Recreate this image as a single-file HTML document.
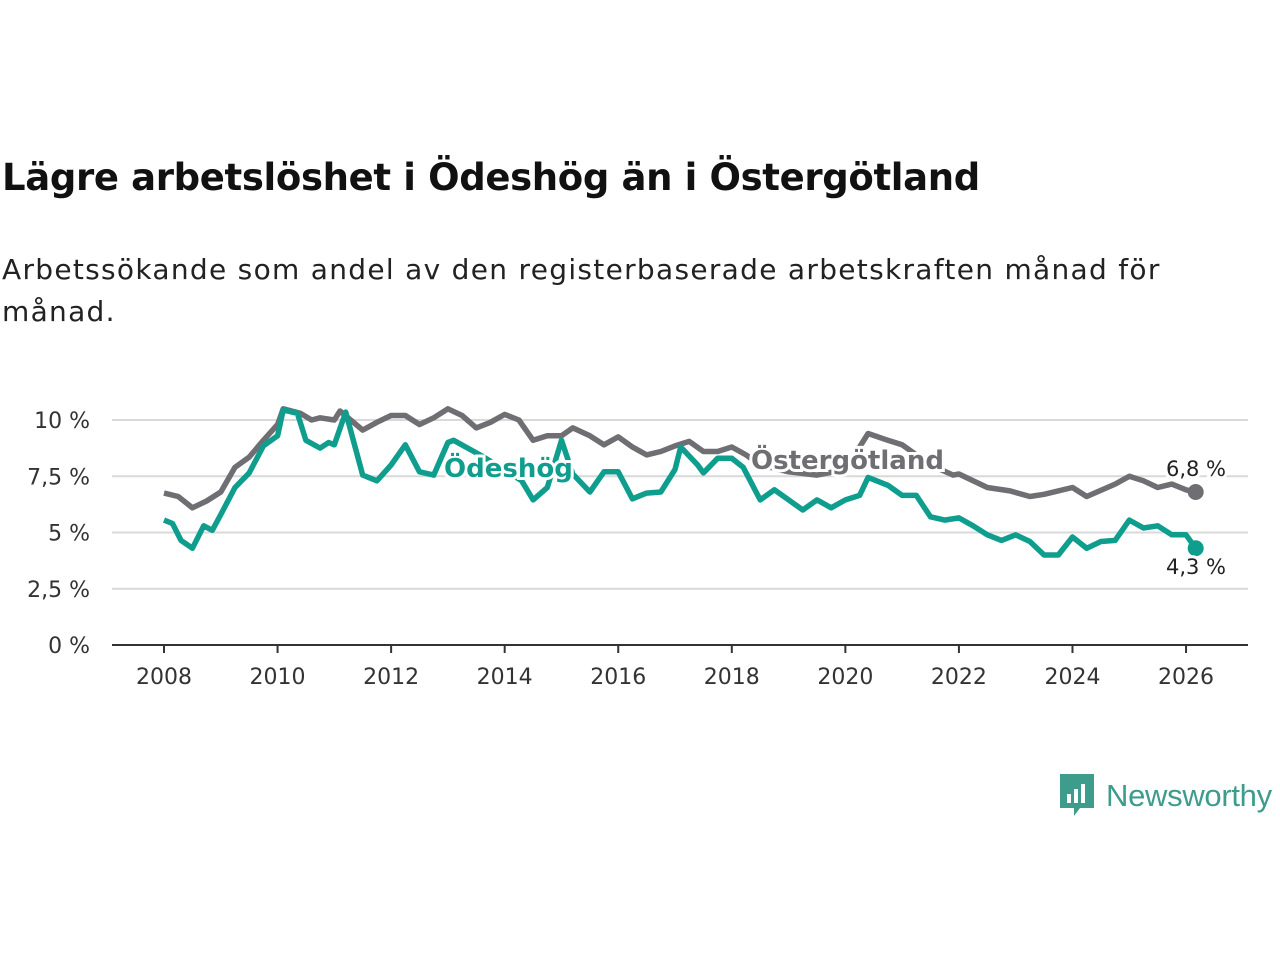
<!DOCTYPE html>
<html><head><meta charset="utf-8"><style>
body{margin:0;background:#fff;font-family:"Liberation Sans","DejaVu Sans",sans-serif;}
#wrap{position:relative;width:1280px;height:960px;overflow:hidden}
h1{position:absolute;left:2px;top:156px;margin:0;font-size:37px;font-weight:bold;color:#111;font-family:"DejaVu Sans","Liberation Sans",sans-serif;letter-spacing:-0.35px}
p.sub{position:absolute;left:2px;top:249px;margin:0;font-size:28px;line-height:42px;color:#222;width:1240px;letter-spacing:1.3px;font-family:"DejaVu Sans","Liberation Sans",sans-serif;}
</style></head><body><div id="wrap">
<h1>Lägre arbetslöshet i Ödeshög än i Östergötland</h1>
<p class="sub">Arbetssökande som andel av den registerbaserade arbetskraften månad för<br>månad.</p>
<svg id="chart" width="1280" height="960" style="position:absolute;left:0;top:0"></svg>
<div style="position:absolute;left:1060px;top:774px;display:flex;align-items:center">
<svg width="34" height="44" viewBox="0 0 34 44"><path d="M0 0H34V34H20L14 42V34H0Z" fill="#3d9c8c"/><rect x="7" y="20" width="4" height="9" fill="#fff"/><rect x="14" y="15" width="4" height="14" fill="#fff"/><rect x="21" y="10" width="4" height="19" fill="#fff"/></svg>
<span style="font-size:31px;color:#3d9c8c;margin-left:12px;letter-spacing:-0.3px">Newsworthy</span></div>
</div>
<script>
const years=["2008","2010","2012","2014","2016","2018","2020","2022","2024","2026"];
const yTicks=[0,2.5,5,7.5,10];
const yTickLabels=["0 %","2,5 %","5 %","7,5 %","10 %"];
const ostT=[2008.0,2008.25,2008.5,2008.75,2009.0,2009.25,2009.5,2009.75,2010.0,2010.1,2010.4,2010.6,2010.75,2011.0,2011.1,2011.5,2011.75,2012.0,2012.25,2012.5,2012.75,2013.0,2013.25,2013.5,2013.75,2014.0,2014.25,2014.5,2014.75,2015.0,2015.2,2015.5,2015.75,2016.0,2016.25,2016.5,2016.75,2017.0,2017.25,2017.5,2017.75,2018.0,2018.25,2018.5,2019.0,2019.5,2020.0,2020.4,2020.75,2021.0,2021.5,2021.9,2022.0,2022.5,2022.9,2023.25,2023.5,2024.0,2024.25,2024.75,2025.0,2025.25,2025.5,2025.75,2026.0,2026.17];
const ostV=[6.75,6.6,6.1,6.4,6.8,7.9,8.35,9.1,9.8,10.5,10.3,10.0,10.1,10.0,10.4,9.55,9.9,10.2,10.2,9.8,10.1,10.5,10.2,9.65,9.9,10.25,10.0,9.1,9.3,9.3,9.65,9.3,8.9,9.25,8.8,8.45,8.6,8.85,9.05,8.6,8.6,8.8,8.45,8.0,7.7,7.55,7.8,9.4,9.1,8.9,8.0,7.55,7.6,7.0,6.85,6.6,6.7,7.0,6.6,7.15,7.5,7.3,7.0,7.15,6.9,6.8];
const odeT=[2008.0,2008.15,2008.3,2008.5,2008.7,2008.85,2009.0,2009.25,2009.5,2009.75,2010.0,2010.1,2010.35,2010.5,2010.75,2010.9,2011.0,2011.2,2011.5,2011.75,2012.0,2012.25,2012.5,2012.75,2013.0,2013.1,2013.6,2014.3,2014.5,2014.75,2015.0,2015.2,2015.5,2015.75,2016.0,2016.25,2016.5,2016.75,2017.0,2017.1,2017.4,2017.5,2017.75,2018.0,2018.2,2018.5,2018.75,2019.0,2019.25,2019.5,2019.75,2020.0,2020.25,2020.4,2020.75,2021.0,2021.25,2021.5,2021.75,2022.0,2022.25,2022.5,2022.75,2023.0,2023.25,2023.5,2023.75,2024.0,2024.25,2024.5,2024.75,2025.0,2025.25,2025.5,2025.75,2026.0,2026.17];
const odeV=[5.55,5.4,4.65,4.3,5.3,5.1,5.8,7.0,7.65,8.85,9.3,10.45,10.3,9.1,8.75,9.0,8.9,10.35,7.55,7.3,8.0,8.9,7.7,7.55,9.0,9.1,8.4,7.3,6.45,7.0,9.1,7.6,6.8,7.7,7.7,6.5,6.75,6.8,7.8,8.8,8.0,7.65,8.3,8.3,7.9,6.45,6.9,6.45,6.0,6.45,6.1,6.45,6.65,7.45,7.1,6.65,6.65,5.7,5.55,5.65,5.3,4.9,4.65,4.9,4.6,4.0,4.0,4.8,4.3,4.6,4.65,5.55,5.2,5.3,4.9,4.9,4.3];
const NS="http://www.w3.org/2000/svg";
const svg=document.getElementById('chart');
const X=t=>164+(t-2008)*56.78;
const Y=v=>645-v*22.5;
function mk(tag,attrs,parent){const e=document.createElementNS(NS,tag);for(const k in attrs)e.setAttribute(k,attrs[k]);(parent||svg).appendChild(e);return e;}
yTicks.forEach((v,i)=>{
 if(v>0){const g=mk('line',{x1:112,x2:1248,y1:Y(v),y2:Y(v),stroke:'#d9d9d9','stroke-width':2});
 
 }
 const t=mk('text',{x:90,y:Y(v)+8,'text-anchor':'end','font-size':22,fill:'#333','font-family':'DejaVu Sans, Liberation Sans, sans-serif'});t.textContent=yTickLabels[i];
 
 
});
const ax=mk('line',{x1:112,x2:1248,y1:645,y2:645,stroke:'#333','stroke-width':2});


years.forEach(y=>{
 const x=X(+y);
 const tk=mk('line',{x1:x,x2:x,y1:645,y2:653,stroke:'#333','stroke-width':2});
 
 
 const t=mk('text',{x:x,y:684,'text-anchor':'middle','font-size':22,fill:'#333','font-family':'DejaVu Sans, Liberation Sans, sans-serif'});t.textContent=y;
 
 
});
function line(T,V,col,name){
 const d=T.map((t,i)=>(i?'L':'M')+X(t).toFixed(1)+' '+Y(V[i]).toFixed(1)).join('');
 const p=mk('path',{d:d,fill:'none',stroke:col,'stroke-width':5.5,'stroke-linejoin':'round'});
 
 
 const n=T.length-1;
 const c=mk('circle',{cx:X(T[n]),cy:Y(V[n]),r:8,fill:col});
 
 
}
line(ostT,ostV,'#6e6e73','ostergotland');
line(odeT,odeV,'#0f9e8e','odeshog');
function lab(x,y,txt,col,name,size,weight,anchor){
 const t=mk('text',{x:x,y:y,'font-size':size,'font-weight':weight,fill:col,stroke:'#fff','stroke-width':6,'paint-order':'stroke','text-anchor':anchor||'start','font-family':'DejaVu Sans, Liberation Sans, sans-serif'});t.textContent=txt;
 
 
}
lab(444,477,'Ödeshög','#0f9e8e','odeshog-label',26,'bold');
lab(751,469,'Östergötland','#6e6e73','ostergotland-label',26,'bold');
lab(1196,476,'6,8 %','#222','ostergotland-value-label',21,'normal','middle');
lab(1196,574,'4,3 %','#222','odeshog-value-label',21,'normal','middle');
</script>
</body></html>
